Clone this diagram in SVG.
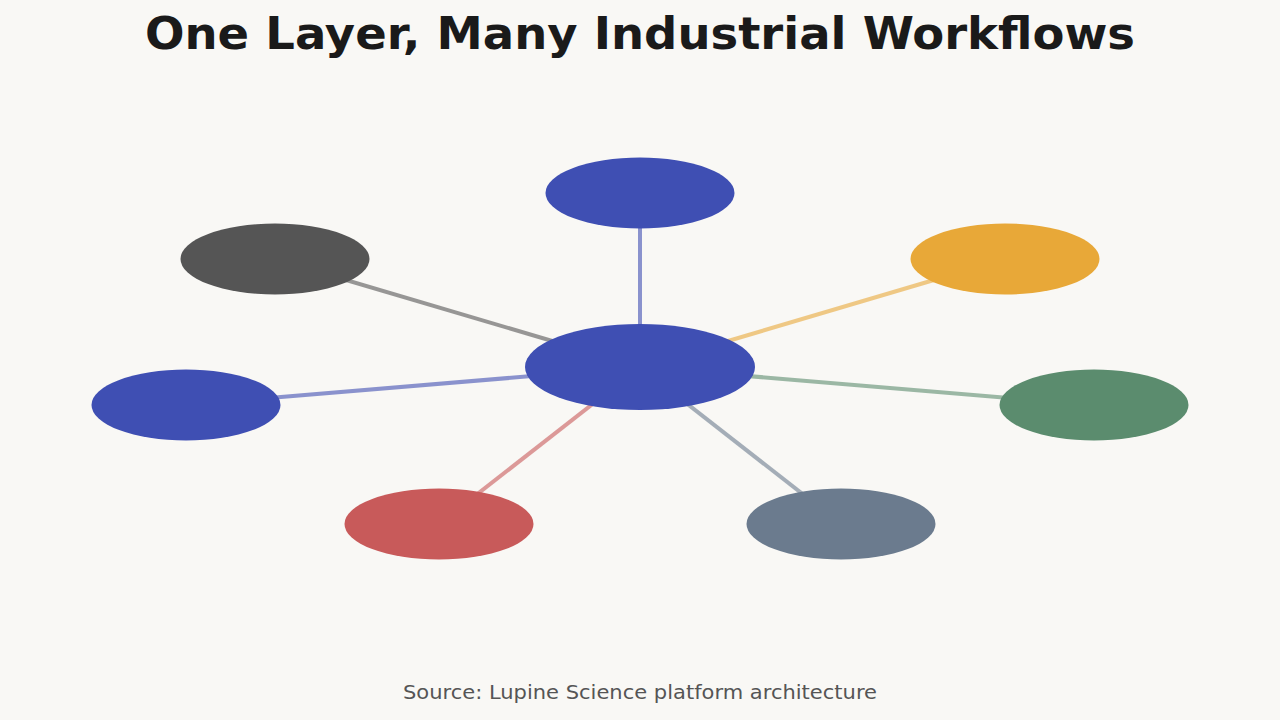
<svg xmlns="http://www.w3.org/2000/svg" width="1280" height="720" viewBox="0 0 1280 720">
<style>
.title{font-family:"DejaVu Sans",sans-serif;font-weight:bold;font-size:45px;fill:#1a1a1a}
.src{font-family:"DejaVu Sans",sans-serif;font-size:19px;fill:#555555}
.edge{stroke-width:4;stroke-opacity:0.6;fill:none}
</style>
<rect width="1280" height="720" fill="#F9F8F5"/>
<text class="title" x="640" y="49" text-anchor="middle" textLength="990" lengthAdjust="spacingAndGlyphs">One Layer, Many Industrial Workflows</text>
<g id="connectors">
<line class="edge" x1="640" y1="367" x2="640" y2="193" stroke="#3F4FB3"/>
<line class="edge" x1="640" y1="367" x2="275" y2="259" stroke="#555555"/>
<line class="edge" x1="640" y1="367" x2="1005" y2="259" stroke="#E8A838"/>
<line class="edge" x1="640" y1="367" x2="186" y2="405" stroke="#3F4FB3"/>
<line class="edge" x1="640" y1="367" x2="1094" y2="405" stroke="#5B8C6E"/>
<line class="edge" x1="640" y1="367" x2="439" y2="524" stroke="#C85A5A"/>
<line class="edge" x1="640" y1="367" x2="841" y2="524" stroke="#6B7B8E"/>
</g>
<g id="node-top"><ellipse cx="640" cy="193" rx="94.5" ry="35.5" fill="#3F4FB3"/></g>
<g id="node-topleft"><ellipse cx="275" cy="259" rx="94.5" ry="35.5" fill="#555555"/></g>
<g id="node-topright"><ellipse cx="1005" cy="259" rx="94.5" ry="35.5" fill="#E8A838"/></g>
<g id="node-left"><ellipse cx="186" cy="405" rx="94.5" ry="35.5" fill="#3F4FB3"/></g>
<g id="node-right"><ellipse cx="1094" cy="405" rx="94.5" ry="35.5" fill="#5B8C6E"/></g>
<g id="node-bottomleft"><ellipse cx="439" cy="524" rx="94.5" ry="35.5" fill="#C85A5A"/></g>
<g id="node-bottomright"><ellipse cx="841" cy="524" rx="94.5" ry="35.5" fill="#6B7B8E"/></g>
<g id="node-center"><ellipse cx="640" cy="367" rx="115" ry="43" fill="#3F4FB3"/></g>
<text class="src" x="640" y="699" text-anchor="middle" textLength="474" lengthAdjust="spacingAndGlyphs">Source: Lupine Science platform architecture</text>
</svg>
